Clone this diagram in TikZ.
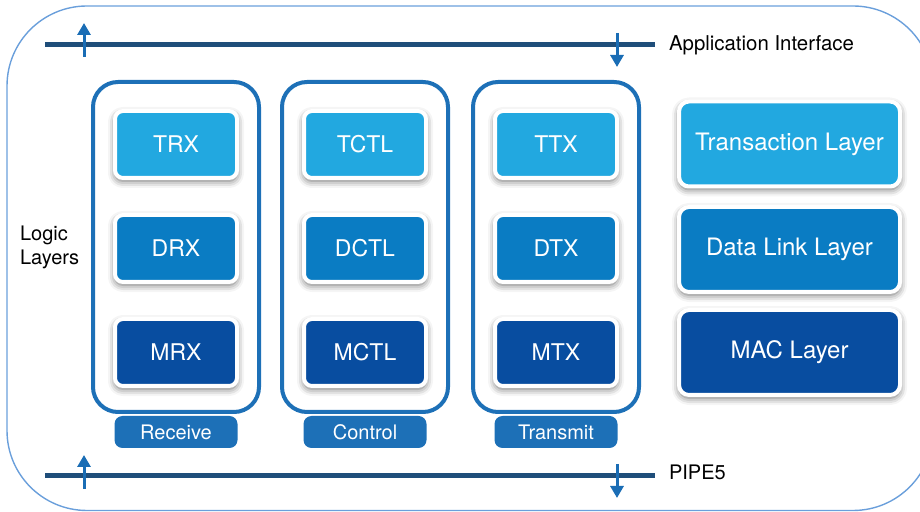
\documentclass[tikz,border=0pt]{standalone}
\usepackage{fontspec}
\setmainfont{TeX Gyre Heros}
\usepackage{tikz}
\usetikzlibrary{positioning,shapes,arrows.meta,calc,shadows.blur}
\definecolor{toneT}{HTML}{22A8E0}
\definecolor{toneD}{HTML}{0A7CC3}
\definecolor{toneM}{HTML}{084DA0}
\definecolor{groupblue}{HTML}{1D70B7}
\definecolor{busblue}{HTML}{1F4E7A}
\definecolor{arrowblue}{HTML}{1A6DB5}
\definecolor{frameblue}{HTML}{6A9FDB}

\begin{document}
\begin{tikzpicture}[
      x=0.5pt, y=-0.5pt,
      block/.style={
        rectangle,
        draw=white,
        line width=2pt,
        rounded corners=4pt,
        text=white,
        font=\fontsize{11.5}{13}\selectfont,
        minimum width=61pt,
        minimum height=33.5pt,
        blur shadow={shadow xshift=0pt, shadow yshift=-1.5pt,
          shadow blur radius=3.5pt, shadow opacity=60},
      },
      layer/.style={
        block,
        font=\fontsize{12}{14}\selectfont,
        rounded corners=5pt,
        minimum width=110.5pt,
        minimum height=42.5pt,
      },
      group/.style={
        rectangle,
        draw=groupblue,
        line width=2pt,
        rounded corners=12.5pt,
        minimum width=83pt,
        minimum height=165pt,
      },
      tag/.style={
        rectangle,
        fill=groupblue,
        rounded corners=4pt,
        text=white,
        font=\fontsize{10}{12}\selectfont,
        minimum width=61.5pt,
        minimum height=16pt,
        inner sep=0pt,
      },
      bus/.style={busblue, line width=2.5pt},
      flow/.style={arrowblue, line width=1.5pt,
        -{Triangle[width=6.5pt,length=6pt]}},
      ]
      \useasboundingbox (0,0) rectangle (920,512);
      \draw[frameblue, line width=0.7pt, rounded corners=40pt]
        (7,6) rectangle (933,510.5);
      % receive / control / transmit stacks
      \foreach \col/\name/\x/\label in {rx/RX/176/Receive, ctl/CTL/365/Control, tx/TX/556/Transmit} {
        \node[group] (\col) at (\x,247) {};
        \node[block, fill=toneT] (t\col) at (\x,144.5) {T\name};
        \node[block, fill=toneD] (d\col) at (\x,248.5) {D\name};
        \node[block, fill=toneM] (m\col) at (\x,352.5) {M\name};
        \node[tag] (\col tag) at (\x,432) {\label};
      }
      \node[layer, fill=toneT] (translayer) at (789.5,144) {Transaction Layer};
      \node[layer, fill=toneD] (linklayer) at (789.5,249.5) {Data Link Layer};
      \node[layer, fill=toneM] (maclayer) at (789.5,352.5) {MAC Layer};
      \node[anchor=west, align=left, font=\fontsize{10}{12}\selectfont] (logic) at (13,247) {Logic\\Layers};
      % application interface
      \coordinate (appL) at (45,45);
      \coordinate (appR) at (655,45);
      \draw[bus] (appL) -- (appR);
      \node[right=3.5pt of appR, font=\fontsize{10.2}{12}\selectfont] (applabel) {Application Interface};
      \coordinate (appup0) at (84,57);
      \coordinate (appup1) at (84,23);
      \draw[flow] (appup0) -- (appup1);
      \coordinate (appdn0) at (617,33);
      \coordinate (appdn1) at (617,67);
      \draw[flow] (appdn0) -- (appdn1);
      % pipe
      \coordinate (pipeL) at (45,476);
      \coordinate (pipeR) at (655,476);
      \draw[bus] (pipeL) -- (pipeR);
      \node[right=3.5pt of pipeR, font=\fontsize{10}{12}\selectfont, yshift=2pt] (pipelabel) {PIPE5};
      \coordinate (pipeup0) at (84,489);
      \coordinate (pipeup1) at (84,455);
      \draw[flow] (pipeup0) -- (pipeup1);
      \coordinate (pipedn0) at (617,464);
      \coordinate (pipedn1) at (617,498);
      \draw[flow] (pipedn0) -- (pipedn1);
\end{tikzpicture}
\end{document}
